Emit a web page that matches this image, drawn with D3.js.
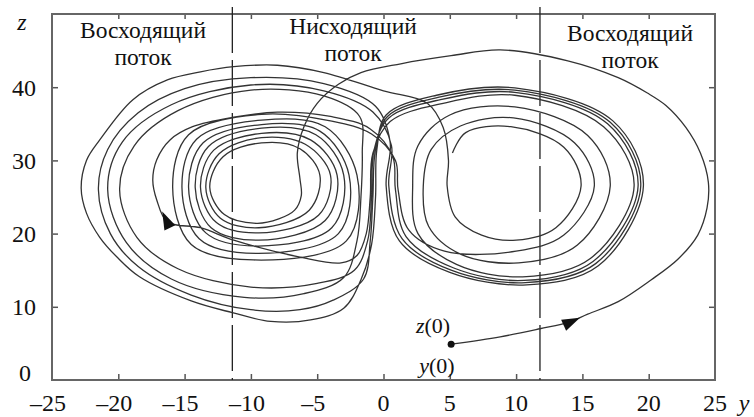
<!DOCTYPE html>
<html>
<head>
<meta charset="utf-8">
<script src="https://cdn.jsdelivr.net/npm/d3@7"></script>
<style>
  body { margin: 0; background: #fff; }
  svg { display: block; }
  text { font-family: "Liberation Serif", "Times New Roman", serif; fill: #111; }
</style>
</head>
<body>
<svg width="754" height="417"></svg>
<script>
// axis values
var yTicks = [-25, -20, -15, -10, -5, 0, 5, 10, 15, 20, 25];
var zTicks = [0, 10, 20, 30, 40];
var flowBorders = [-11.4, 11.8];
var flowLabels = [["Восходящий", "поток"], ["Нисходящий", "поток"], ["Восходящий", "поток"]];

// trajectory as [y, z]
var startLeg = [[5.1, 4.9], [8.8, 5.9], [11.8, 7.0], [14.0, 7.9], [15.4, 9.0], [17.7, 10.7], [20.2, 13.7],
  [22.2, 16.5], [23.7, 19.8], [24.4, 23.5], [24.5, 27.0], [23.9, 31.0], [22.8, 34.5], [21.3, 37.5],
  [19.9, 39.2], [17.7, 41.3], [13.9, 43.6], [8.8, 45.1], [5.1, 44.3], [1.3, 43.2], [-1.7, 42.0],
  [-3.4, 40.4], [-5.0, 37.8], [-6.0, 34.6], [-6.5, 31.0], [-6.3, 27.5], [-6.2, 25.2], [-6.7, 23.2], [-7.9, 22.0]];

var leftInner = [
  [-9.6, 21.4], [-12.0, 22.6], [-13.1, 26.3], [-12.1, 30.5], [-9.2, 32.4], [-6.3, 31.6], [-4.8, 28.0], [-5.6, 23.2],
  [-9.4, 20.8], [-12.3, 22.1], [-13.4, 26.3], [-12.4, 30.9], [-9.2, 33.1], [-5.9, 32.2], [-4.0, 28.0], [-4.9, 22.5],
  [-9.4, 20.1], [-12.6, 21.5], [-13.8, 26.3], [-12.8, 31.4], [-9.2, 33.7], [-5.5, 32.8], [-3.5, 28.0], [-4.4, 21.8],
  [-9.4, 19.1], [-13.0, 20.8], [-14.2, 26.3], [-13.2, 31.9], [-9.2, 34.4], [-5.1, 33.5], [-3.0, 28.0], [-3.9, 20.8],
  [-9.5, 18.3], [-13.4, 20.1], [-14.7, 26.3], [-13.6, 32.4], [-9.2, 34.9], [-4.8, 34.0], [-2.6, 28.0], [-3.4, 20.0],
  [-9.6, 17.3], [-13.9, 19.3], [-15.2, 26.3], [-14.1, 32.9], [-9.2, 35.5], [-4.4, 34.6], [-2.0, 28.0], [-2.8, 19.0],
  [-9.8, 16.4], [-14.5, 18.5], [-15.9, 26.3], [-14.7, 33.5], [-9.2, 36.3], [-4.0, 35.4], [-0.9, 33.6], [0.9, 30.0]];

var rightInner = [
  [1.1, 26.0], [1.9, 20.5], [4.6, 17.6], [10.0, 17.6], [13.6, 19.8], [15.9, 26.5], [14.4, 32.4], [9.8, 35.8], [5.8, 34.7], [3.6, 31.5],
  [3.0, 26.5], [3.4, 21.0], [5.8, 17.2], [10.2, 16.0], [14.6, 18.4], [17.1, 26.5], [15.4, 33.4], [9.9, 37.3], [5.0, 36.2], [2.6, 32.0],
  [2.2, 26.5], [2.6, 20.0], [5.5, 15.8], [10.5, 14.1], [15.6, 16.6], [18.9, 26.5], [16.6, 34.6], [9.9, 38.9], [4.5, 37.8],
  [0.5, 35.3], [-0.8, 31.0]];

var arrowLoop = [[-1.0, 25.0], [-1.3, 20.0], [-2.0, 17.0], [-3.2, 16.0], [-6.3, 16.8], [-11.3, 19.1], [-13.8, 20.8],
  [-16.3, 21.6], [-17.1, 24.6], [-17.4, 27.3], [-17.1, 30.1], [-16.1, 32.8], [-14.4, 34.6], [-11.3, 35.9],
  [-8.0, 36.6], [-4.0, 36.0], [-1.0, 34.3], [0.7, 30.5]];

var rightLoop2 = [[0.9, 26.0], [1.7, 19.6], [5.3, 15.3], [10.6, 13.6], [15.8, 16.2], [19.2, 26.5], [16.9, 35.0],
  [9.9, 39.3], [4.3, 38.3], [0.4, 35.8], [-0.7, 31.5]];

var leftOuter = [
  [-0.9, 25.0], [-1.2, 19.0], [-2.2, 15.0], [-5.0, 13.2], [-10.0, 12.7], [-15.5, 15.2], [-18.6, 19.5], [-19.9, 26.0],
  [-18.8, 32.0], [-15.5, 36.8], [-10.0, 39.6], [-4.5, 38.8], [-1.8, 36.0], [-1.6, 31.0],
  [-1.7, 25.0], [-2.0, 19.0], [-3.0, 14.0], [-6.0, 11.8], [-10.5, 11.3], [-16.0, 13.8], [-19.4, 18.8], [-20.8, 26.0],
  [-19.7, 32.5], [-16.0, 37.6], [-10.0, 40.3], [-4.5, 39.5], [-0.8, 36.6], [0.6, 32.0]];

var rightLoop3 = [[0.4, 26.5], [1.4, 19.3], [5.1, 15.0], [10.7, 13.3], [16.0, 15.9], [19.4, 26.5], [17.1, 35.2],
  [9.9, 39.6], [4.1, 38.6], [0.3, 36.0], [-0.6, 31.5]];

var leftOuter2 = [[-0.8, 25.0], [-1.0, 19.0], [-1.5, 13.8], [-3.8, 10.9], [-6.3, 9.6], [-10.0, 9.6], [-14.5, 11.6],
  [-18.5, 15.5], [-20.6, 20.0], [-21.5, 26.0], [-20.8, 31.5], [-18.5, 36.5], [-15.0, 39.8], [-10.0, 41.3],
  [-4.5, 40.5], [-0.6, 37.4], [0.5, 32.5]];

var rightLoop4 = [[0.2, 26.5], [1.2, 19.0], [5.0, 14.7], [10.8, 13.0], [16.2, 15.6], [19.6, 26.5], [17.3, 35.4],
  [9.9, 39.9], [4.0, 38.9], [0.2, 36.2], [-0.5, 31.5]];

var leftOuter3 = [[-0.6, 25.0], [-0.9, 18.5], [-1.7, 13.7], [-3.0, 9.8], [-5.5, 8.2], [-8.5, 8.0], [-11.4, 9.2],
  [-14.5, 10.8], [-18.4, 14.1], [-20.1, 16.8], [-21.4, 19.5], [-22.4, 22.8], [-22.8, 26.2], [-22.4, 30.0],
  [-21.4, 32.8], [-18.9, 38.3], [-16.3, 41.0], [-13.8, 42.1], [-11.3, 42.8], [-8.0, 43.0], [-4.5, 42.0],
  [0.0, 39.5], [3.3, 37.8], [4.5, 34.5], [4.9, 30.0]];

var finalLoop = [[4.8, 26.5], [5.4, 22.3], [7.4, 19.8], [10.0, 19.1], [13.0, 20.8], [14.9, 26.5], [13.6, 31.8],
  [9.6, 34.6], [6.2, 33.8], [5.2, 31.0]];

// arrow heads: [y, z] at the head and a second point giving the heading
var arrowHeads = [[[14.2, 8.0], [15.4, 9.0]], [[-16.4, 21.9], [-17.1, 24.6]]];
var startPoint = [5.1, 4.9];

var trajectory = [].concat(startLeg, leftInner, rightInner, arrowLoop, rightLoop2, leftOuter,
  rightLoop3, leftOuter2, rightLoop4, leftOuter3, finalLoop);

var svg = d3.select("svg");

var x = d3.scaleLinear().domain([-25, 25]).range([52, 715]);
var z = d3.scaleLinear().domain([0, 50]).range([380, 14]);

var fmt = function (d) { return d < 0 ? "\u2013" + (-d) : String(d); };

/******************************************
  Axes with inner ticks on all four sides
******************************************/
svg.append("g")
  .attr("transform", "translate(0,380)")
  .call(d3.axisBottom(x).tickValues(yTicks.slice(1, -1)).tickSize(-6).tickFormat(""))
  .select(".domain").remove();

svg.append("g")
  .attr("transform", "translate(0,14)")
  .call(d3.axisTop(x).tickValues(yTicks.slice(1, -1)).tickSize(-5).tickFormat(""))
  .select(".domain").remove();

svg.append("g")
  .attr("transform", "translate(52,0)")
  .call(d3.axisLeft(z).tickValues(zTicks.slice(1)).tickSize(-6).tickFormat(""))
  .select(".domain").remove();

svg.append("g")
  .attr("transform", "translate(715,0)")
  .call(d3.axisRight(z).tickValues(zTicks.slice(1)).tickSize(-6).tickFormat(""))
  .select(".domain").remove();

svg.selectAll(".tick line").attr("stroke", "#555").attr("stroke-width", 1.5);

// frame
svg.append("rect")
  .attr("x", x(-25)).attr("y", z(50))
  .attr("width", x(25) - x(-25)).attr("height", z(0) - z(50))
  .attr("fill", "none").attr("stroke", "#666").attr("stroke-width", 2);

// tick labels
svg.append("g").selectAll("text")
  .data(yTicks)
  .enter().append("text")
  .attr("x", function (d) { return x(d) + (d < 0 ? -4 : 0); })
  .attr("y", 411)
  .attr("text-anchor", "middle")
  .style("font-size", "24px")
  .text(fmt);

svg.append("g").selectAll("text")
  .data(zTicks)
  .enter().append("text")
  .attr("x", function (d) { return d === 0 ? 31 : 36; })
  .attr("y", function (d) { return d === 0 ? z(d) - 7 : z(d); })
  .attr("dy", "0.35em")
  .attr("text-anchor", "end")
  .style("font-size", "24px")
  .text(fmt);

svg.append("text").attr("x", 22).attr("y", 30).attr("text-anchor", "middle")
  .style("font-size", "24px").style("font-style", "italic").text("z");
svg.append("text").attr("x", 744).attr("y", 411).attr("text-anchor", "middle")
  .style("font-size", "24px").style("font-style", "italic").text("y");

/******************************************
  Flow borders (dashed) and flow labels
******************************************/
svg.selectAll(".border")
  .data(flowBorders)
  .enter().append("line")
  .attr("class", "border")
  .attr("x1", function (d) { return x(d); })
  .attr("x2", function (d) { return x(d); })
  .attr("y1", 7)
  .attr("y2", z(0))
  .attr("stroke", "#222")
  .attr("stroke-width", 1.3)
  .attr("stroke-dasharray", "46,7");

var labelPos = [[143, 38], [353, 34], [630, 41]];
flowLabels.forEach(function (lines, i) {
  lines.forEach(function (s, j) {
    svg.append("text")
      .attr("x", labelPos[i][0])
      .attr("y", labelPos[i][1] + j * 27)
      .attr("text-anchor", "middle")
      .style("font-size", "23.5px")
      .text(s);
  });
});

/******************************************
  Trajectory
******************************************/
var line = d3.line()
  .x(function (d) { return x(d[0]); })
  .y(function (d) { return z(d[1]); })
  .curve(d3.curveCatmullRom.alpha(0.5));

svg.append("path")
  .datum(trajectory)
  .attr("d", line)
  .attr("fill", "none")
  .attr("stroke", "#333")
  .attr("stroke-width", 1.3);

svg.selectAll(".arrow")
  .data(arrowHeads)
  .enter().append("path")
  .attr("class", "arrow")
  .attr("d", "M9,0 L-9,-6 L-9,6 Z")
  .attr("fill", "#111")
  .attr("transform", function (d) {
    var a = Math.atan2(z(d[1][1]) - z(d[0][1]), x(d[1][0]) - x(d[0][0])) * 180 / Math.PI;
    return "translate(" + x(d[0][0]) + "," + z(d[0][1]) + ") rotate(" + a + ")";
  });

svg.append("circle")
  .attr("cx", x(startPoint[0]))
  .attr("cy", z(startPoint[1]))
  .attr("r", 3.5)
  .attr("fill", "#111");

// initial condition labels
var z0 = svg.append("text").attr("x", 433).attr("y", 333).attr("text-anchor", "middle").style("font-size", "22px");
z0.append("tspan").style("font-style", "italic").text("z");
z0.append("tspan").text("(0)");
var y0 = svg.append("text").attr("x", 437).attr("y", 373).attr("text-anchor", "middle").style("font-size", "22px");
y0.append("tspan").style("font-style", "italic").text("y");
y0.append("tspan").text("(0)");
</script>
</body>
</html>
